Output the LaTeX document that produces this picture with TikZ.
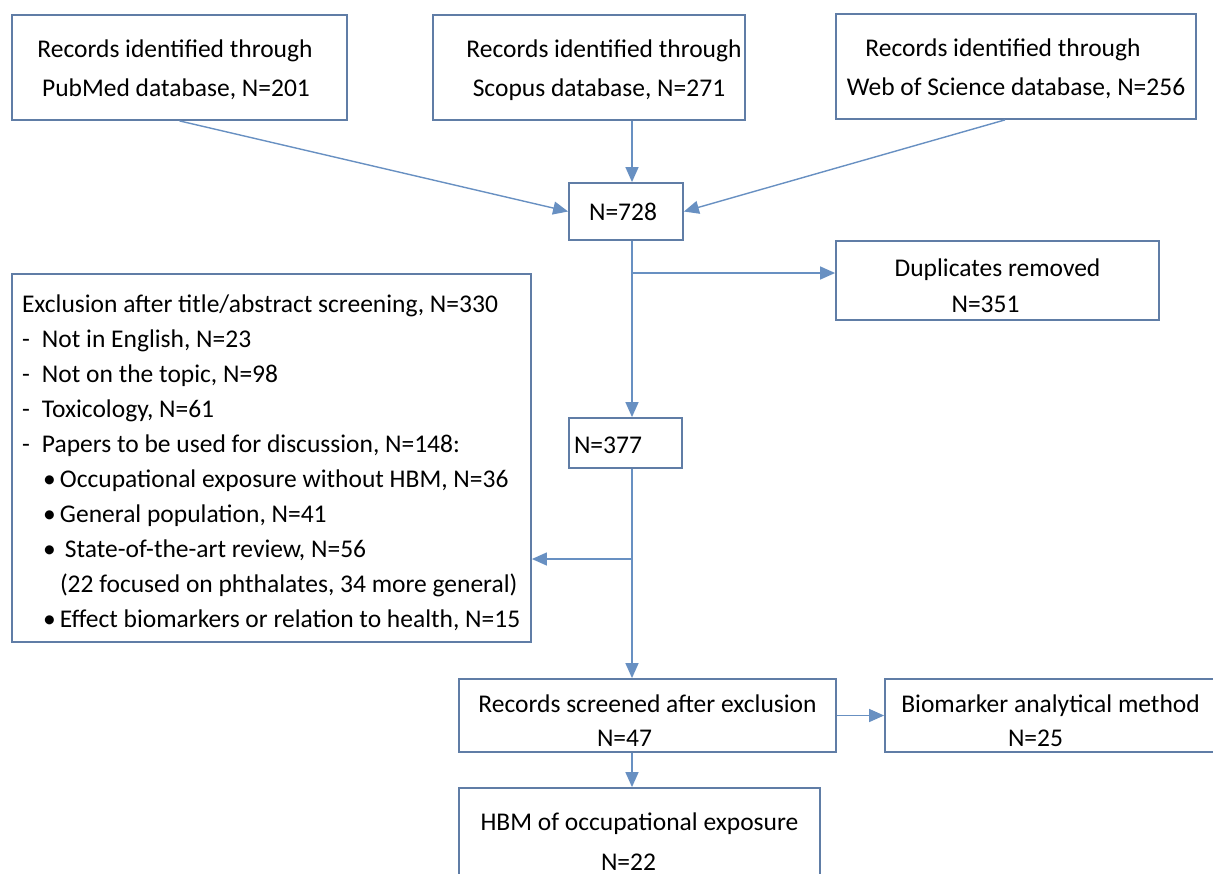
\documentclass[tikz,border=0pt]{standalone}
\usepackage{fontspec}
\setmainfont{Carlito}
\usetikzlibrary{arrows.meta}
\definecolor{boxc}{RGB}{96,125,166}
\definecolor{arrc}{RGB}{104,144,194}
\newcommand\exline[1]{\makebox[499pt][l]{#1}}
\begin{document}
\begin{tikzpicture}[x=1pt,y=-1pt,
  box/.style={draw=boxc, line width=1.8pt, inner sep=0pt, align=center,
    font=\fontsize{25.5pt}{35pt}\selectfont},
  arr/.style={draw=arrc, line width=1.4pt, -{Triangle[length=15pt,width=13pt]}}]
\useasboundingbox (0,0) rectangle (1213,873);
% boxes
\node[box, minimum width=335pt, minimum height=105pt, font=\fontsize{25.5pt}{39pt}\selectfont] (pub) at (179.5,67.5)
  {\rule{0pt}{23pt}\hspace*{-9pt}Records identified through\\\hspace*{-7pt}PubMed database, N=201};
\node[box, minimum width=312pt, minimum height=105pt, font=\fontsize{25.5pt}{39pt}\selectfont] (sco) at (589,67.5)
  {\rule{0pt}{23pt}\hspace*{30pt}Records identified through\\\hspace*{20pt}Scopus database, N=271};
\node[box, minimum width=360pt, minimum height=105pt, font=\fontsize{25.5pt}{39pt}\selectfont] (wos) at (1016,66.5)
  {\rule{0pt}{23pt}\hspace*{-26pt}Records identified through\\Web of Science database, N=256};
\node[box, minimum width=114pt, minimum height=57pt] (main) at (626,211.5)
  {\hspace*{-6pt}N=728};
\node[box, minimum width=323pt, minimum height=79pt, font=\fontsize{25.5pt}{36pt}\selectfont] (dup) at (997.5,280.5)
  {\rule{0pt}{28pt}Duplicates removed\\\hspace*{-24pt}N=351};
\node[box, minimum width=519pt, minimum height=368pt, inner xsep=10pt, align=left] (exc) at (271.5,458)
  {\exline{\rule{0pt}{27pt}Exclusion after title/abstract screening, N=330}\\
   \exline{\makebox[20pt][l]{-}Not in English, N=23}\\
   \exline{\makebox[20pt][l]{-}Not on the topic, N=98}\\
   \exline{\makebox[20pt][l]{-}Toxicology, N=61}\\
   \exline{\makebox[20pt][l]{-}Papers to be used for discussion, N=148:}\\
   \exline{\hspace*{21pt}\makebox[17pt][l]{\textbullet}Occupational exposure without HBM, N=36}\\
   \exline{\hspace*{21pt}\makebox[17pt][l]{\textbullet}General population, N=41}\\
   \exline{\hspace*{21pt}\makebox[22pt][l]{\textbullet}State-of-the-art review, N=56}\\
   \exline{\hspace*{38pt}(22 focused on phthalates, 34 more general)}\\
   \exline{\hspace*{21pt}\makebox[17pt][l]{\textbullet}Effect biomarkers or relation to health, N=15}};
\node[box, minimum width=113pt, minimum height=50pt, inner xsep=5pt, align=left] (n377) at (625.5,443)
  {\makebox[103pt][l]{\rule{0pt}{22pt}N=377}};
\node[box, minimum width=377pt, minimum height=73pt, font=\fontsize{25.5pt}{34pt}\selectfont] (scr) at (647.5,715.5)
  {\rule{0pt}{28pt}Records screened after exclusion\\\hspace*{-46pt}N=47};
\node[box, minimum width=331pt, minimum height=73pt, font=\fontsize{25.5pt}{34pt}\selectfont] (bio) at (1050.5,715.5)
  {\rule{0pt}{28pt}Biomarker analytical method\\\hspace*{-30pt}N=25};
\node[box, minimum width=361pt, minimum height=108pt, font=\fontsize{25.5pt}{40pt}\selectfont] (hbm) at (639.5,842)
  {HBM of occupational exposure\\\hspace*{-22pt}N=22};
% spine and branch points
\coordinate (sp) at (632,0);
\coordinate (b1) at (632,273);
\coordinate (b2) at (632,559);
% connectors
\draw[arr] (pub.south) -- (main.west);
\draw[arr] (sco.south -| sp) -- (main.north -| sp);
\draw[arr] ([xshift=-11pt]wos.south) -- (main.east);
\draw[arr] (main.south -| sp) -- (n377.north -| sp);
\draw[arr] (b1) -- (b1 -| dup.west);
\draw[arr] (n377.south -| sp) -- (scr.north -| sp);
\draw[arr] (b2) -- (b2 -| exc.east);
\draw[arr] (scr.east) -- (bio.west);
\draw[arr] (scr.south -| sp) -- (hbm.north -| sp);
\end{tikzpicture}
\end{document}
